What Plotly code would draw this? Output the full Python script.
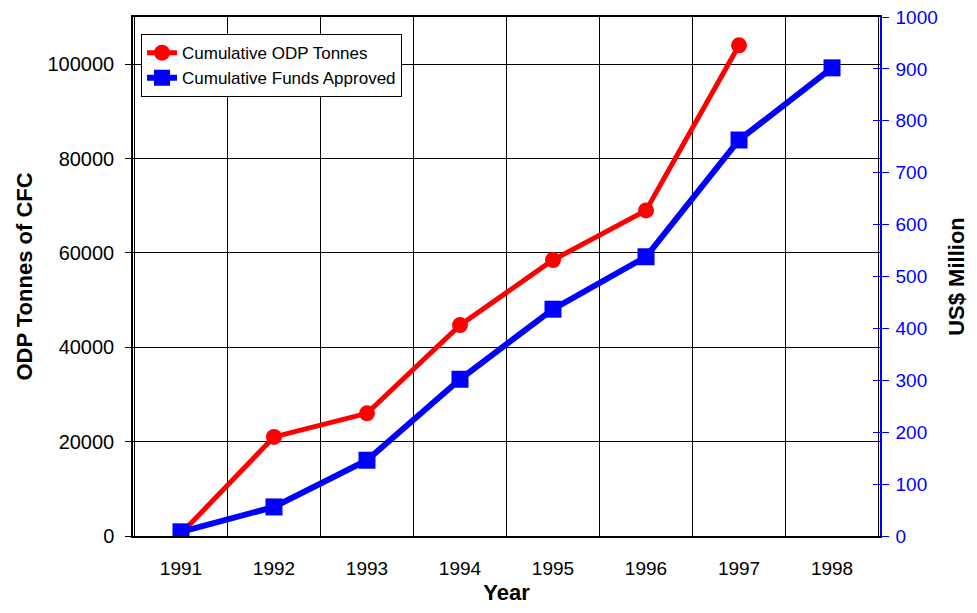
import plotly.graph_objects as go

years = ["1991", "1992", "1993", "1994", "1995", "1996", "1997", "1998"]
odp_tonnes = [500, 21000, 26000, 44700, 58500, 69000, 104000, None]
funds_approved = [8, 56, 146, 302, 437, 538, 763, 902]

left_ticks = [0, 20000, 40000, 60000, 80000, 100000]
right_ticks = [0, 100, 200, 300, 400, 500, 600, 700, 800, 900, 1000]

FONT = "Liberation Sans, Arial, sans-serif"

fig = go.Figure()

fig.add_trace(
    go.Scatter(
        x=years,
        y=funds_approved,
        name="Cumulative Funds Approved",
        mode="lines+markers",
        line=dict(color="#0000ff", width=6),
        marker=dict(symbol="square", size=17, color="#0000ff"),
        yaxis="y2",
    )
)

fig.add_trace(
    go.Scatter(
        x=years,
        y=odp_tonnes,
        name="Cumulative ODP Tonnes",
        mode="lines+markers",
        line=dict(color="#ff0000", width=5),
        marker=dict(symbol="circle", size=16, color="#ff0000"),
    )
)

# invisible helper so the inward half of the right-hand "cross" ticks is drawn
fig.add_trace(
    go.Scatter(x=years, y=funds_approved, yaxis="y3", mode="lines",
               line=dict(width=0), showlegend=False, hoverinfo="skip")
)

# page body has an 8px margin, so the figure is shrunk to fit inside the window
fig.update_layout(
    width=961,
    height=597,
    margin=dict(l=125, r=89, t=9, b=69),
    paper_bgcolor="white",
    plot_bgcolor="white",
    font=dict(family=FONT, size=20, color="black"),
    xaxis=dict(
        type="category",
        tickson="boundaries",
        automargin=False,
        showgrid=True,
        gridcolor="#000000",
        gridwidth=1,
        showline=True,
        linecolor="black",
        linewidth=1.5,
        mirror=True,
        ticks="",
        ticklabelstandoff=14,
        tickfont=dict(size=19),
        title=dict(text="<b>Year</b>", font=dict(size=22), standoff=11),
    ),
    yaxis=dict(
        range=[0, 110000],
        tickvals=left_ticks,
        tickformat="d",
        automargin=False,
        showgrid=True,
        gridcolor="#000000",
        gridwidth=1,
        zeroline=False,
        showline=True,
        linecolor="black",
        linewidth=1.5,
        ticks="outside",
        ticklen=6,
        tickcolor="black",
        ticklabelstandoff=7,
        tickfont=dict(size=20),
        title=dict(text="<b>ODP Tonnes of CFC</b>", font=dict(size=22), standoff=9),
    ),
    yaxis2=dict(
        range=[0, 1000],
        tickvals=right_ticks,
        overlaying="y",
        side="right",
        anchor="x",
        automargin=False,
        showgrid=False,
        zeroline=False,
        showline=True,
        linecolor="#0000ff",
        linewidth=1.5,
        ticks="outside",
        ticklen=7,
        tickcolor="#0000ff",
        ticklabelstandoff=3,
        ticklabeloverflow="allow",
        tickfont=dict(size=19, color="#0000ff"),
        title=dict(text="<b>US$ Million</b>", font=dict(size=22, color="black"), standoff=14),
    ),
    yaxis3=dict(
        range=[0, 1000],
        tickvals=right_ticks,
        overlaying="y",
        side="right",
        anchor="x",
        automargin=False,
        showgrid=False,
        zeroline=False,
        showline=False,
        ticks="inside",
        ticklen=7,
        tickcolor="#0000ff",
        showticklabels=False,
    ),
    legend=dict(
        x=0.0107,
        y=0.967,
        xanchor="left",
        yanchor="top",
        bgcolor="white",
        bordercolor="black",
        borderwidth=1,
        font=dict(size=17),
        traceorder="reversed",
        tracegroupgap=0,
    ),
    showlegend=True,
)

fig.write_html("out.html")
